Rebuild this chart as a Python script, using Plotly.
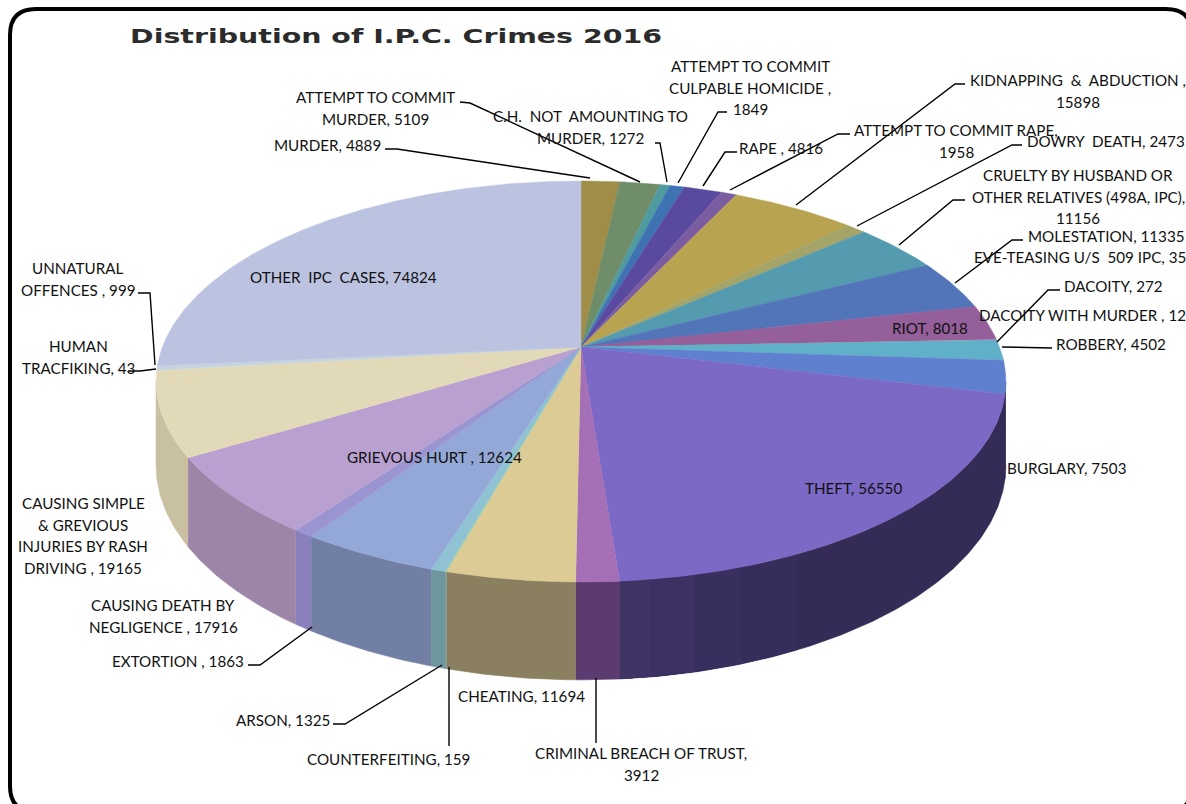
import numpy as np
import plotly.graph_objects as go

# ---- data -------------------------------------------------------------
categories = ["MURDER", "ATTEMPT TO COMMIT MURDER", "C.H. NOT AMOUNTING TO MURDER",
              "ATTEMPT TO COMMIT CULPABLE HOMICIDE", "RAPE", "ATTEMPT TO COMMIT RAPE",
              "KIDNAPPING & ABDUCTION", "DOWRY DEATH", "CRUELTY BY HUSBAND OR OTHER RELATIVES (498A, IPC)",
              "MOLESTATION", "EVE-TEASING U/S 509 IPC", "RIOT", "DACOITY", "DACOITY WITH MURDER",
              "ROBBERY", "BURGLARY", "THEFT", "CRIMINAL BREACH OF TRUST", "CHEATING",
              "COUNTERFEITING", "ARSON", "GRIEVOUS HURT", "EXTORTION", "CAUSING DEATH BY NEGLIGENCE",
              "CAUSING SIMPLE & GREVIOUS INJURIES BY RASH DRIVING", "HUMAN TRACFIKING",
              "UNNATURAL OFFENCES", "OTHER IPC CASES"]
values = [4889, 5109, 1272, 1849, 4816, 1958, 15898, 2473, 11156, 11335, 35, 8018, 272, 12,
          4502, 7503, 56550, 3912, 11694, 159, 1325, 12624, 1863, 17916, 19165, 43, 999, 74824]
top_colors = ["#a08e48", "#6f8d68", "#4f9a9e", "#3f72b2", "#5a4a9f", "#7a5da0", "#b8a350", "#a5a468",
              "#549bb0", "#5274b8", "#5274b8", "#945f9b", "#6aa0b0", "#6aa0b0", "#5fb0c8", "#5f7fcf",
              "#7c68c5", "#a46fb5", "#dccb95", "#a8cfa0", "#8fc3d3", "#94a8d8", "#9a94d0", "#b8a0d0",
              "#e2d9b8", "#d5e0d0", "#c6d4e0", "#bcc3e0"]
wall_colors = {16: "#342b57", 17: "#5c3c70", 18: "#8a7f5f", 19: "#7f9a90", 20: "#6f97a0", 21: "#727fa5",
               22: "#8a80bb", 23: "#9d85a8", 24: "#c8c0a0", 25: "#c8ccc0", 26: "#b8c0cc", 27: "#aab0cc",
               15: "#342b57"}

title = "Distribution of I.P.C. Crimes 2016"
labels = [
    (["ATTEMPT TO COMMIT", "MURDER, 5109"], 375, 97),
    (["MURDER, 4889"], 327, 145),
    (["C.H.  NOT  AMOUNTING TO", "MURDER, 1272"], 590, 116),
    (["ATTEMPT TO COMMIT", "CULPABLE HOMICIDE ,", "1849"], 750, 66),
    (["RAPE , 4816"], 781, 148),
    (["ATTEMPT TO COMMIT RAPE,", "1958"], 956, 130),
    (["KIDNAPPING  &  ABDUCTION ,", "15898"], 1078, 80),
    (["DOWRY  DEATH, 2473"], 1106, 141),
    (["CRUELTY BY HUSBAND OR", "OTHER RELATIVES (498A, IPC),", "11156"], 1078, 175),
    (["MOLESTATION, 11335"], 1106, 236),
    (["EVE-TEASING U/S  509 IPC, 35"], 1080, 257),
    (["DACOITY, 272"], 1113, 286),
    (["DACOITY WITH MURDER , 12"], 1082, 315),
    (["ROBBERY, 4502"], 1111, 344),
    (["RIOT, 8018"], 930, 328),
    (["BURGLARY, 7503"], 1066, 468),
    (["THEFT, 56550"], 853, 488),
    (["CRIMINAL BREACH OF TRUST,", "3912"], 641, 753),
    (["CHEATING, 11694"], 521, 696),
    (["COUNTERFEITING, 159"], 388, 759),
    (["ARSON, 1325"], 283, 720),
    (["EXTORTION , 1863"], 178, 661),
    (["CAUSING DEATH BY", "NEGLIGENCE , 17916"], 163, 605),
    (["CAUSING SIMPLE", "& GREVIOUS", "INJURIES BY RASH", "DRIVING , 19165"], 83, 503),
    (["GRIEVOUS HURT , 12624"], 434, 457),
    (["HUMAN", "TRACFIKING, 43"], 78, 346),
    (["UNNATURAL", "OFFENCES , 999"], 78, 268),
    (["OTHER  IPC  CASES, 74824"], 343, 277),
]
leaders = [
    [(385, 149), (397, 149), (590, 178)],
    [(460, 102), (470, 103), (640, 182)],
    [(655, 143), (660, 143), (667, 182)],
    [(727, 112), (718, 112), (678, 183)],
    [(737, 152), (725, 152), (703, 186)],
    [(850, 134), (838, 134), (730, 190)],
    [(965, 84), (955, 84), (796, 205)],
    [(1022, 145), (1012, 145), (857, 226)],
    [(965, 200), (953, 200), (899, 245)],
    [(1023, 240), (1012, 240), (955, 283)],
    [(1060, 290), (1048, 290), (997, 342)],
    [(1052, 348), (1002, 347)],
    [(128, 371), (140, 371), (156, 369)],
    [(138, 293), (150, 293), (155, 365)],
    [(248, 665), (260, 665), (312, 627)],
    [(333, 724), (345, 724), (442, 665)],
    [(449, 746), (449, 667)],
    [(596, 743), (596, 678)],
]

# ---- projection of the tilted disc -------------------------------------
CX, CY = 581.0, 347.0
KX, KY, PERSP, DEPTH = 418.6, 194.6, 0.172, 81.0


def project(theta, drop=0.0):
    u, v = np.sin(theta), -np.cos(theta)
    w = 1.0 - PERSP * v
    return CX + KX * u / w, CY + (KY * v + drop) / w


fig = go.Figure()
edges = np.concatenate([[0.0], np.cumsum(values)]) / float(np.sum(values)) * 2 * np.pi
front_a, front_b = np.pi - np.arccos(PERSP), np.pi + np.arccos(PERSP)


def add_wall(a, b, col, name, width=0.6):
    t = np.linspace(a, b, max(3, int((b - a) / 0.01)))
    xt, yt = project(t)
    xb, yb = project(t[::-1], DEPTH)
    fig.add_trace(go.Scatter(x=np.r_[xt, xb], y=np.r_[yt, yb], mode="lines", fill="toself",
                             fillcolor=col, line=dict(color=col, width=width), name=name,
                             hoverinfo="skip", showlegend=False))


# side wall, visible front half only
for i, name in enumerate(categories):
    a, b = max(edges[i], front_a), min(edges[i + 1], front_b)
    if b <= a or i not in wall_colors:
        continue
    add_wall(a, b, wall_colors[i], name)
    if i == 16:  # the wall of the largest front slice brightens slightly toward the viewer
        for frac, col in [(0.70, "#362d5a"), (0.80, "#392f5e"), (0.88, "#3c3162"), (0.95, "#403466")]:
            add_wall(a + (b - a) * frac, b, col, name, width=0)

# top face
for i, name in enumerate(categories):
    t = np.linspace(edges[i], edges[i + 1], max(3, int((edges[i + 1] - edges[i]) / 0.01)))
    xr, yr = project(t)
    fig.add_trace(go.Scatter(x=np.r_[CX, xr, CX], y=np.r_[CY, yr, CY], mode="lines", fill="toself",
                             fillcolor=top_colors[i], line=dict(color=top_colors[i], width=0.4),
                             name=name, hoverinfo="text", text=f"{name}: {values[i]}", showlegend=False))

# leader lines
for pts in leaders:
    fig.add_trace(go.Scatter(x=[p[0] for p in pts], y=[p[1] for p in pts], mode="lines",
                             line=dict(color="#000000", width=1.4), hoverinfo="skip", showlegend=False))

annotations = [dict(x=396, y=36, xref="x", yref="y", xanchor="center", yanchor="middle", showarrow=False,
                    text=f"<b>{title}</b>",
                    font=dict(family="DejaVu Sans", size=20, color="#2b2b2b"))]
for lines, cx, y0 in labels:
    for k, line in enumerate(lines):
        annotations.append(dict(x=cx, y=y0 + 21.5 * k, xref="x", yref="y", xanchor="center", yanchor="middle",
                                showarrow=False, text=line,
                                font=dict(family="Lato", size=15.2, color="#111111")))

R = 26
L, T, RR, B = 10, 9, 1192, 812
frame = (f"M {L + R} {T} L {RR - R} {T} Q {RR} {T} {RR} {T + R} L {RR} {B - R} Q {RR} {B} {RR - R} {B} "
         f"L {L + R} {B} Q {L} {B} {L} {B - R} L {L} {T + R} Q {L} {T} {L + R} {T} Z")

fig.update_layout(
    width=1186, height=804, autosize=False, margin=dict(l=0, r=0, t=0, b=0),
    paper_bgcolor="#ffffff", plot_bgcolor="#ffffff", showlegend=False,
    xaxis=dict(range=[0, 1186], visible=False, fixedrange=True),
    yaxis=dict(range=[804, 0], visible=False, fixedrange=True),
    annotations=annotations,
    shapes=[dict(type="path", path=frame, xref="x", yref="y", line=dict(color="#000000", width=4), layer="above")],
)

stretch_title = """
document.body.style.margin='0';document.body.style.overflow='hidden';
var t=document.querySelector('.annotation-text');
if(t){t.setAttribute('textLength','532');t.setAttribute('lengthAdjust','spacingAndGlyphs');}
"""
fig.write_html("out.html", config={"displayModeBar": False}, post_script=stretch_title)
